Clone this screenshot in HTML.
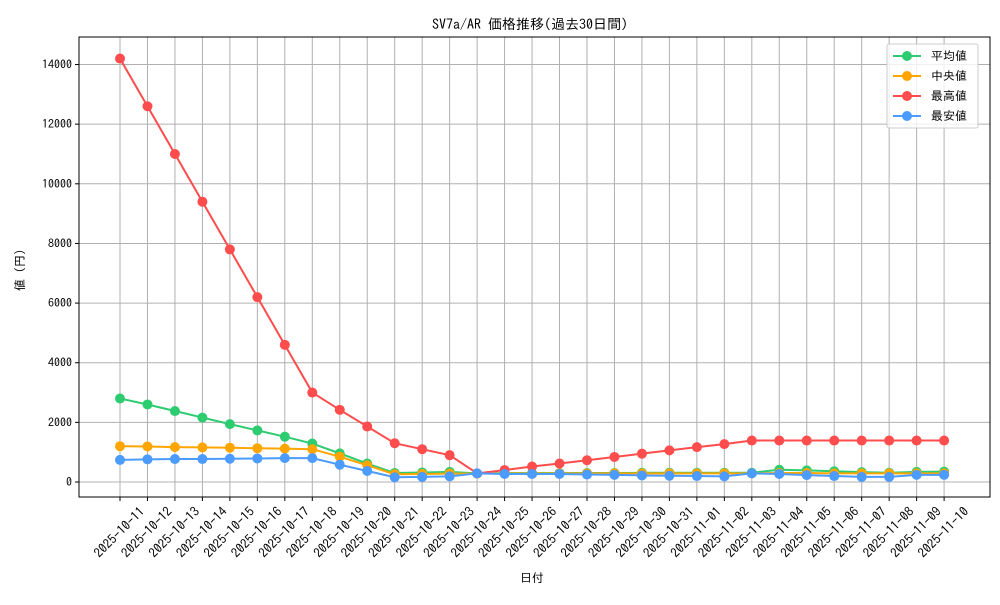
<!DOCTYPE html><html><head><meta charset="utf-8"><style>body{margin:0;background:#fff}svg text{font-family:"IPAGothic","Liberation Sans",sans-serif;font-size:12px;fill:#000}</style></head><body>
<svg id="s" width="1000" height="600" xmlns="http://www.w3.org/2000/svg"></svg>
<script>
const s=document.getElementById('s');let h='';
const L=79,R=990,T=37,B=497;
const X=i=>120+i*27.47, Y=v=>482-v*0.02982;
h+=`<text x="530" y="29" text-anchor="middle" style="font-size:14px">SV7a/AR 価格推移(過去30日間)</text>`;
for(let v=0;v<=14000;v+=2000){const y=Y(v);h+=`<line x1="${L}" x2="${R}" y1="${y}" y2="${y}" stroke="#b0b0b0"/><line x1="${L-4}" x2="${L}" y1="${y}" y2="${y}" stroke="#000"/><text x="${L-7}" y="${y+4}" text-anchor="end">${v}</text>`;}
for(let i=0;i<31;i++){const x=X(i);const d=new Date(Date.UTC(2025,9,11+i));const lab=d.toISOString().slice(0,10);
h+=`<line x1="${x}" x2="${x}" y1="${T}" y2="${B}" stroke="#b0b0b0"/><line x1="${x}" x2="${x}" y1="${B}" y2="${B+4}" stroke="#000"/><text transform="translate(${x},${B+36}) rotate(-45)" text-anchor="middle" dominant-baseline="middle" style="font-size:13px">${lab}</text>`;}
h+=`<rect x="${L}" y="${T}" width="${R-L}" height="${B-T}" fill="none" stroke="#000"/>`;
h+=`<text x="532" y="582" text-anchor="middle">日付</text><text transform="translate(24,270) rotate(-90)" text-anchor="middle">値 (円)</text>`;
const S=[
["#2ecc71","平均値",[2800,2600,2380,2160,1940,1730,1520,1290,960,620,300,320,340,290,300,300,300,300,300,310,310,310,310,310,410,390,360,330,310,340,350]],
["#ffa500","中央値",[1200,1190,1170,1160,1150,1130,1120,1100,850,560,260,270,280,280,290,290,290,290,290,290,290,290,290,290,300,300,290,290,290,290,290]],
["#ff4c4c","最高値",[14200,12600,11000,9400,7800,6200,4600,3000,2420,1860,1300,1100,900,290,400,520,620,730,840,950,1060,1170,1270,1390,1390,1390,1390,1390,1390,1390,1390]],
["#4c9bff","最安値",[740,760,770,770,780,790,800,800,580,370,160,170,190,290,270,270,270,250,240,220,210,200,190,290,270,230,200,170,170,240,240]]];
S.forEach(([c,n,d])=>{h+=`<polyline fill="none" stroke="${c}" stroke-width="2" points="${d.map((v,i)=>X(i)+','+Y(v)).join(' ')}"/>`;d.forEach((v,i)=>h+=`<circle cx="${X(i)}" cy="${Y(v)}" r="5" fill="${c}"/>`);});
h+=`<rect x="887" y="44" width="91" height="84" fill="#fff" fill-opacity="0.8" stroke="#ccc" rx="2"/>`;
S.forEach(([c,n],k)=>{const y=56+k*20;h+=`<line x1="893" x2="921" y1="${y}" y2="${y}" stroke="${c}" stroke-width="2"/><circle cx="907" cy="${y}" r="5" fill="${c}"/><text x="931" y="${y+4}">${n}</text>`;});
s.innerHTML=h;
</script></body></html>
